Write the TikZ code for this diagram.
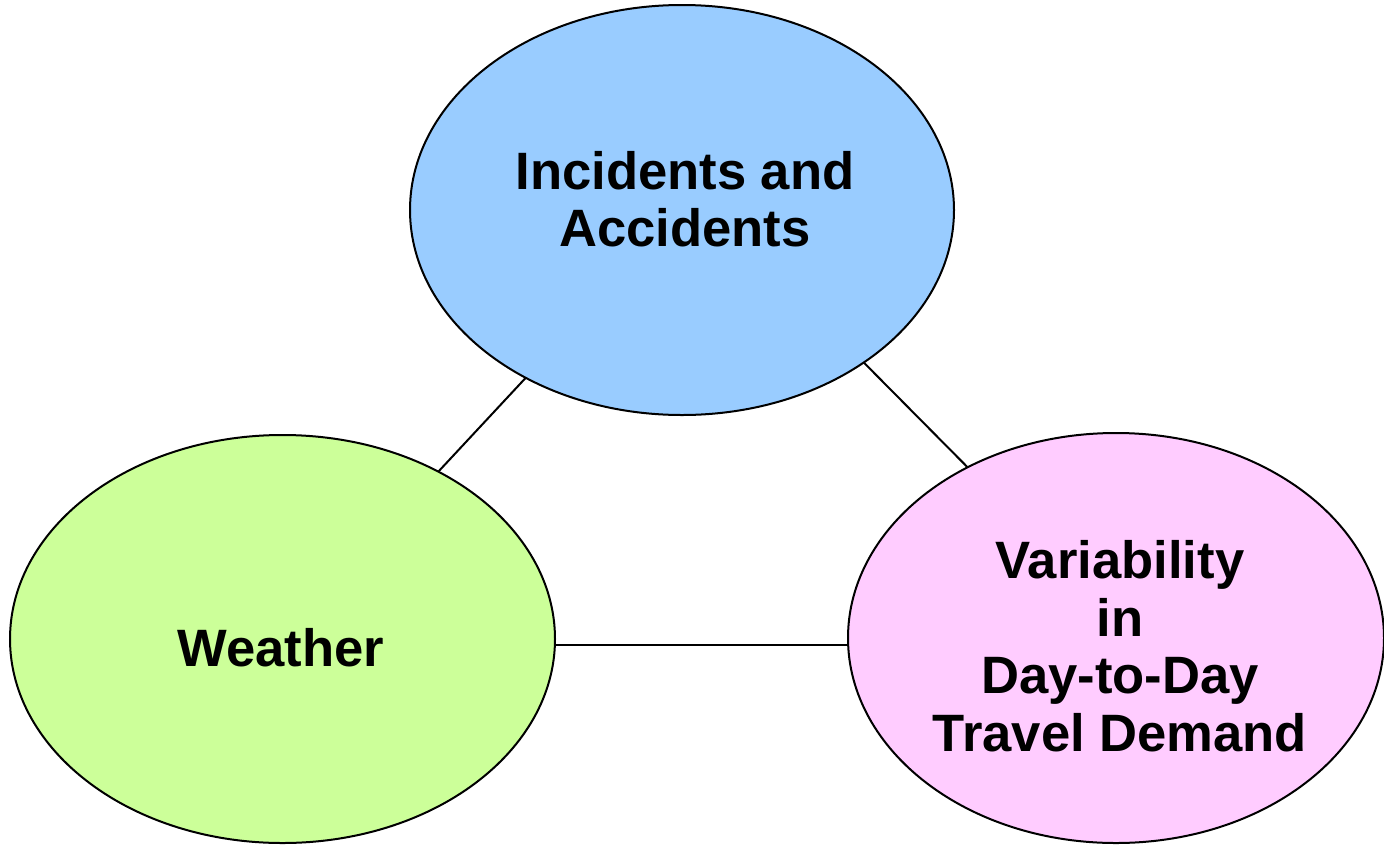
\documentclass[tikz,border=0pt]{standalone}
\usepackage{fontspec}
\setmainfont{Liberation Sans}
\usetikzlibrary{shapes.geometric}
\definecolor{incblue}{HTML}{99CCFF}
\definecolor{weagreen}{HTML}{CCFF99}
\definecolor{varpink}{HTML}{FFCCFF}
\begin{document}
\begin{tikzpicture}[x=1pt,y=-1pt,
  blob/.style={ellipse, draw=black, line width=2pt, inner sep=0pt, outer sep=0pt},
  label/.style={align=center, inner sep=0pt, font=\fontsize{52.6}{57.5}\selectfont\bfseries},
  link/.style={draw=black, line width=2pt}]
  \useasboundingbox[fill=white] (0,0) rectangle (1384,844);

  % the three factor ellipses
  \node[blob, fill=incblue, minimum width=544pt, minimum height=410pt] (inc) at (682,210) {};
  \node[blob, fill=weagreen, minimum width=545pt, minimum height=408pt] (wea) at (282.5,639) {};
  \node[blob, fill=varpink, minimum width=536pt, minimum height=410pt] (var) at (1116,638) {};

  % their captions
  \node[label] (incT) at (685,199) {Incidents and\\Accidents};
  \node[label] (weaT) at (281,647.5) {Weather};
  \node[label] (varT) at (1120,646) {Variability\\in\\Day-to-Day\\Travel Demand};

  % links between the factors
  \path[link] (inc) -- (wea);
  \path[link] (inc.-40.5) -- (var.131.9);
  \path[link] ([yshift=-6pt]wea.east) -- ([yshift=-7pt]var.west);
\end{tikzpicture}
\end{document}
